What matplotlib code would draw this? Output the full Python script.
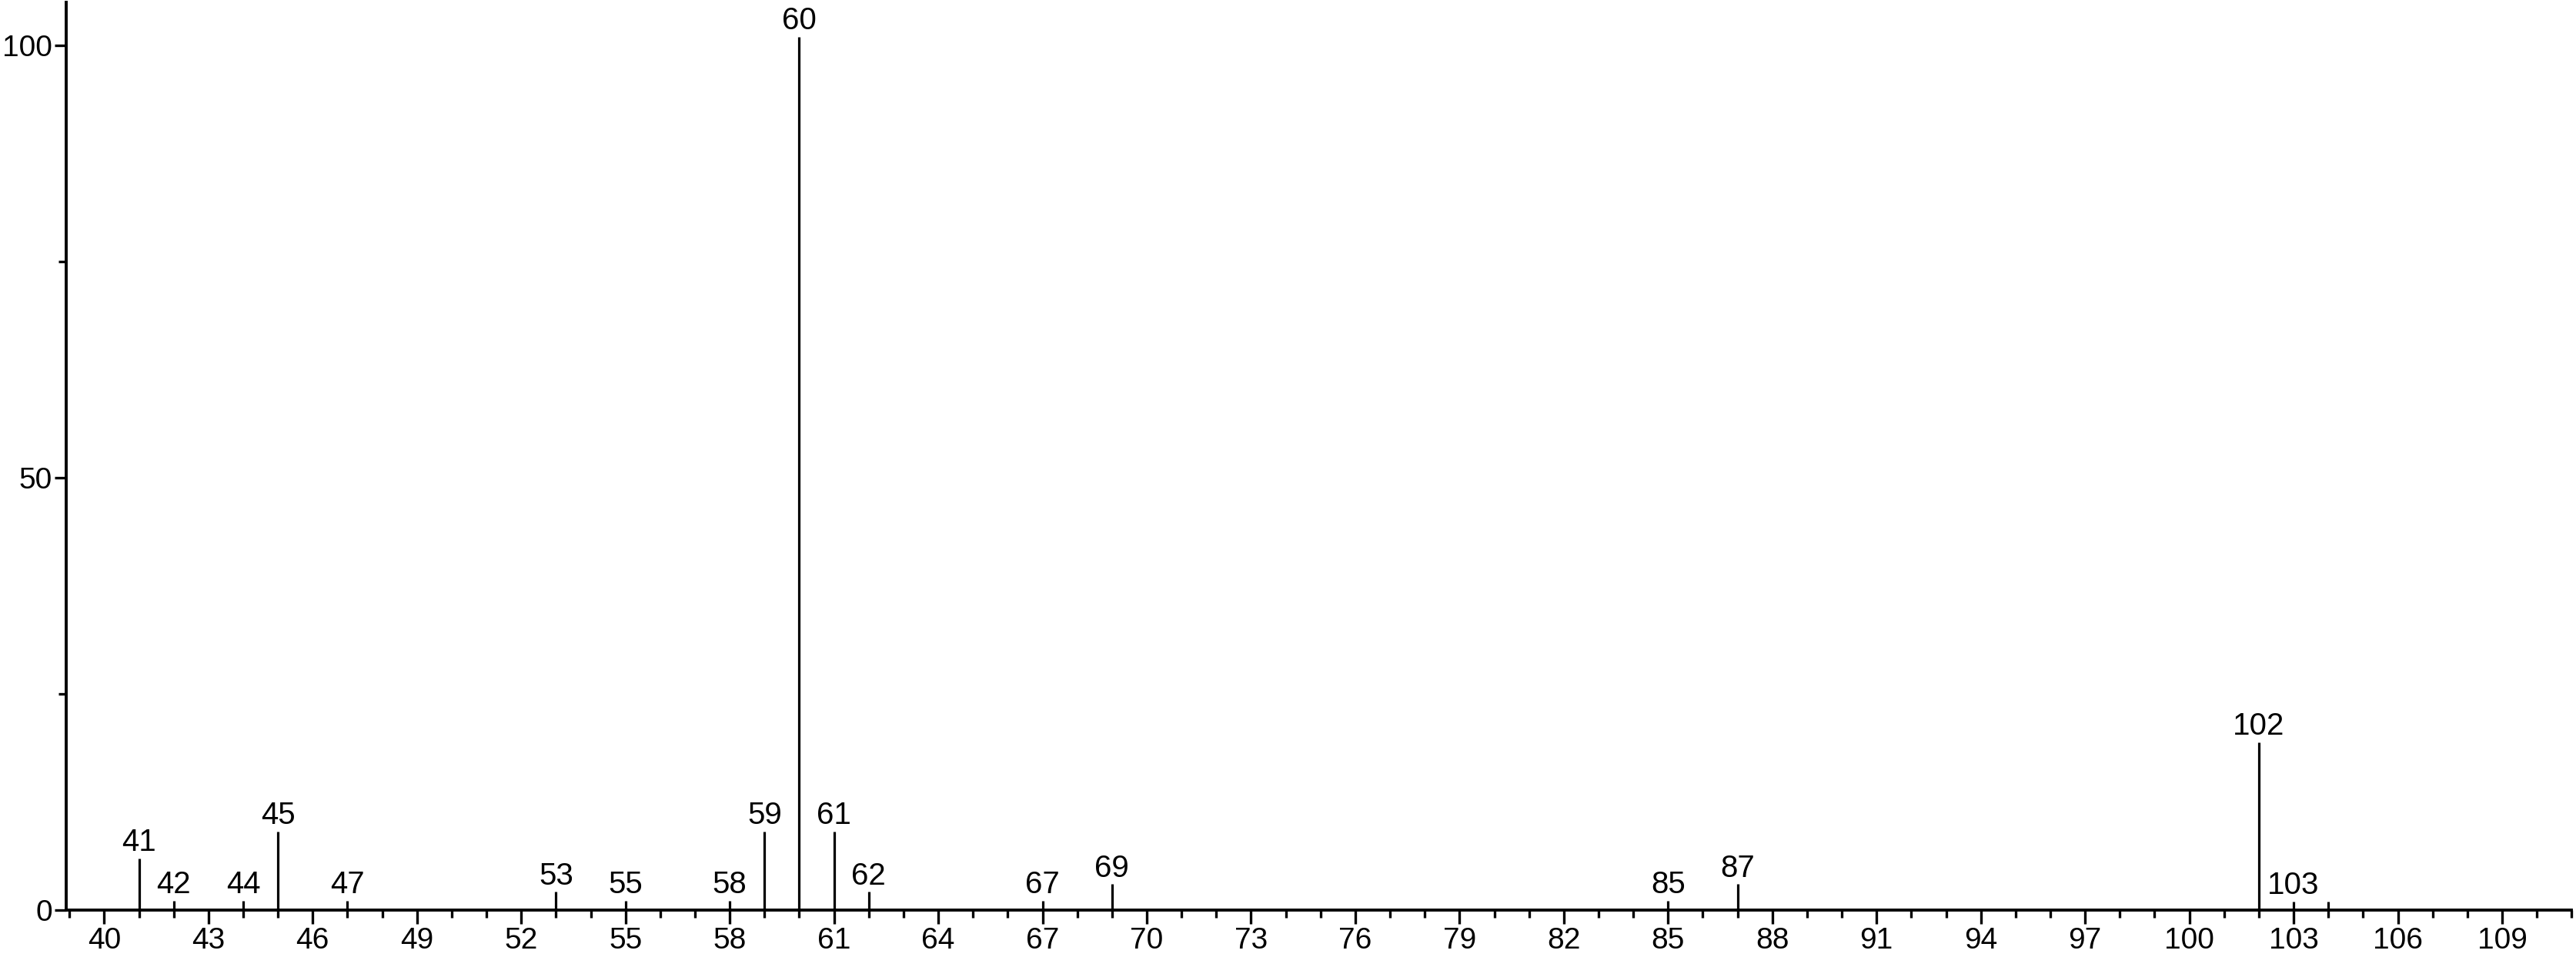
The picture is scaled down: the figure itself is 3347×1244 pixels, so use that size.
import numpy as np
import matplotlib
matplotlib.use("Agg")
import matplotlib.pyplot as plt
from matplotlib.ticker import MultipleLocator

plt.rcParams['font.family'] = ['Liberation Sans', 'DejaVu Sans']

# m/z values and relative intensities
mz = [41, 42, 44, 45, 47, 53, 55, 58, 59, 60, 61, 62, 67, 69, 85, 87, 102, 103, 104]
intensity = [6.0, 1.1, 1.1, 9.1, 1.1, 2.1, 1.1, 1.1, 9.1, 101.0, 9.1, 2.1,
             1.1, 3.0, 1.1, 3.0, 19.4, 1.0, 1.0]
labelled = [41, 42, 44, 45, 47, 53, 55, 58, 59, 60, 61, 62, 67, 69, 85, 87, 102, 103]

fig = plt.figure(figsize=(33.48, 12.44), dpi=100)
ax = fig.add_axes([0.0256, 0.049, 0.9724, 0.9486])

ax.vlines(mz, 0, intensity, color='black', lw=2.3)
for m, h in zip(mz, intensity):
    if m in labelled:
        ax.annotate(str(m), (m, h), xytext=(0, 7), textcoords='offset points',
                    ha='center', va='baseline', fontsize=29)

ax.set_xlim(38.9, 111.0)
ax.set_ylim(0, 105)

ax.set_xticks(np.arange(40, 110, 3))
ax.xaxis.set_minor_locator(MultipleLocator(1))
ax.set_yticks([0, 50, 100])
ax.yaxis.set_minor_locator(MultipleLocator(25))

ax.tick_params(axis='both', which='major', width=2.4, labelsize=28, direction='out')
ax.tick_params(axis='both', which='minor', length=7, width=2.4, direction='out')
ax.tick_params(axis='x', which='major', length=13, pad=3)
ax.tick_params(axis='y', which='major', length=11, pad=2)

for s in ['top', 'right']:
    ax.spines[s].set_visible(False)
for s in ['left', 'bottom']:
    ax.spines[s].set_linewidth(2.8)

fig.savefig('out.png', dpi=100)
